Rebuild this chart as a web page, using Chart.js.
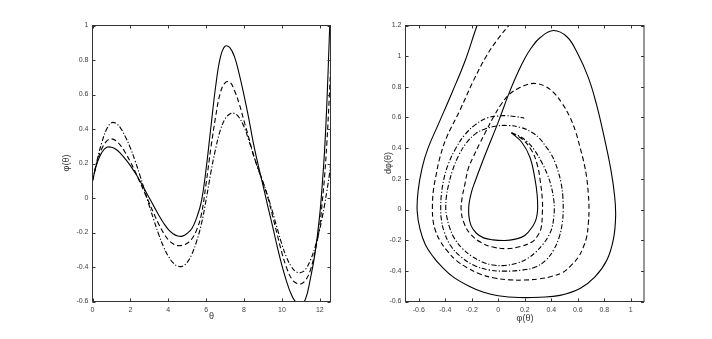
<!DOCTYPE html>
<html><head><meta charset="utf-8">
<script src="https://cdn.jsdelivr.net/npm/chart.js@4.4.1/dist/chart.umd.min.js"></script>
<style>
html,body{margin:0;padding:0;background:#fff;width:712px;height:339px;overflow:hidden}
.box{position:absolute;top:0;width:356px;height:339px}
#w1{left:0}
#w2{left:356px}
</style></head><body>
<div class="box" id="w1"><canvas id="c1" width="356" height="339"></canvas></div>
<div class="box" id="w2"><canvas id="c2" width="356" height="339"></canvas></div>
<script>
// ---- left panel: phi(theta) ----
const theta = [0,0.25,0.5,0.75,1,1.25,1.5,1.75,2,2.25,2.5,2.75,3,3.25,3.5,3.75,4,4.25,4.5,4.75,5,5.25,5.5,5.75,6,6.25,6.5,6.75,7,7.25,7.5,7.75,8,8.25,8.5,8.75,9,9.25,9.5,9.75,10,10.25,10.5,10.75,11,11.25,11.5,11.75,12,12.125,12.25,12.375,12.5,12.566];
const phiSolid = [0.100,0.205,0.265,0.294,0.294,0.281,0.256,0.224,0.188,0.146,0.100,0.050,0.000,-0.050,-0.100,-0.145,-0.182,-0.207,-0.220,-0.221,-0.205,-0.177,-0.115,-0.020,0.170,0.410,0.645,0.815,0.880,0.872,0.818,0.716,0.595,0.462,0.315,0.190,0.075,-0.045,-0.160,-0.280,-0.390,-0.485,-0.560,-0.605,-0.617,-0.585,-0.470,-0.320,-0.095,0.070,0.270,0.550,0.920,1.120];
const phiDashed = [0.100,0.212,0.288,0.330,0.343,0.331,0.302,0.260,0.210,0.153,0.093,0.031,-0.031,-0.093,-0.152,-0.203,-0.242,-0.265,-0.276,-0.274,-0.262,-0.236,-0.185,-0.095,0.085,0.290,0.470,0.610,0.668,0.672,0.622,0.545,0.447,0.350,0.250,0.170,0.092,0.005,-0.100,-0.210,-0.318,-0.405,-0.466,-0.493,-0.498,-0.476,-0.420,-0.310,-0.160,-0.030,0.120,0.320,0.580,0.740];
const phiDashDot = [0.100,0.222,0.325,0.400,0.436,0.432,0.402,0.352,0.290,0.215,0.133,0.045,-0.045,-0.132,-0.212,-0.282,-0.337,-0.375,-0.395,-0.395,-0.373,-0.325,-0.250,-0.150,-0.010,0.148,0.285,0.393,0.458,0.487,0.490,0.465,0.413,0.335,0.248,0.165,0.093,0.013,-0.078,-0.175,-0.268,-0.345,-0.398,-0.428,-0.432,-0.413,-0.362,-0.285,-0.180,-0.115,-0.042,0.040,0.130,0.192];
const xTicksLeft = [0,2,4,6,8,10,12];
const yTicksLeft = [-0.6,-0.4,-0.2,0,0.2,0.4,0.6,0.8,1];

// ---- right panel: phase portrait (phi, dphi) ----
const phSolidX = [0.100,0.176,0.239,0.277,0.294,0.297,0.287,0.264,0.200,0.120,0.050,-0.040,-0.110,-0.165,-0.205,-0.222,-0.220,-0.200,-0.177,-0.101,0.000,0.075,0.141,0.200,0.250,0.315,0.415,0.520,0.600,0.680,0.740,0.800,0.850,0.878,0.886,0.870,0.820,0.730,0.617,0.466,0.314,0.160,0.000,-0.110,-0.220,-0.338,-0.430,-0.489,-0.550,-0.590,-0.612,-0.605,-0.575,-0.530,-0.450,-0.350,-0.250,-0.160,-0.100];
const phSolidY = [0.500,0.440,0.341,0.200,0.091,0.000,-0.060,-0.104,-0.170,-0.195,-0.202,-0.198,-0.185,-0.155,-0.105,-0.040,0.040,0.120,0.178,0.352,0.570,0.744,0.880,0.985,1.055,1.120,1.167,1.125,1.015,0.860,0.690,0.470,0.260,0.090,-0.040,-0.190,-0.330,-0.440,-0.515,-0.560,-0.572,-0.574,-0.562,-0.540,-0.500,-0.441,-0.370,-0.311,-0.230,-0.130,-0.010,0.120,0.270,0.400,0.560,0.760,0.970,1.200,1.330];
const phDashedX = [0.100,0.180,0.252,0.295,0.318,0.333,0.333,0.322,0.290,0.252,0.160,0.065,-0.040,-0.130,-0.210,-0.260,-0.280,-0.272,-0.255,-0.227,-0.190,-0.140,-0.090,-0.038,0.025,0.088,0.163,0.220,0.277,0.350,0.415,0.480,0.541,0.585,0.617,0.648,0.667,0.680,0.685,0.680,0.667,0.640,0.604,0.550,0.490,0.400,0.314,0.200,0.088,-0.030,-0.139,-0.230,-0.315,-0.385,-0.441,-0.475,-0.492,-0.497,-0.490,-0.470,-0.440,-0.390,-0.290,-0.190,-0.090,0.000,0.080,0.160];
const phDashedY = [0.500,0.460,0.385,0.290,0.180,0.060,-0.020,-0.126,-0.180,-0.213,-0.243,-0.255,-0.245,-0.215,-0.160,-0.085,0.000,0.080,0.150,0.265,0.340,0.430,0.515,0.600,0.690,0.755,0.795,0.815,0.822,0.805,0.765,0.695,0.602,0.505,0.406,0.300,0.210,0.100,0.000,-0.090,-0.180,-0.250,-0.311,-0.365,-0.409,-0.437,-0.452,-0.460,-0.459,-0.447,-0.420,-0.382,-0.333,-0.270,-0.202,-0.135,-0.072,0.015,0.120,0.220,0.340,0.470,0.646,0.835,1.000,1.115,1.200,1.280];
const phDashDotX = [0.100,0.160,0.220,0.275,0.327,0.370,0.398,0.418,0.423,0.418,0.403,0.375,0.340,0.280,0.220,0.140,0.050,-0.040,-0.120,-0.200,-0.270,-0.330,-0.370,-0.390,-0.396,-0.392,-0.375,-0.345,-0.300,-0.240,-0.170,-0.100,-0.020,0.070,0.170,0.252,0.310,0.360,0.400,0.428,0.455,0.475,0.487,0.490,0.483,0.460,0.420,0.360,0.280,0.180,0.050,-0.070,-0.180,-0.280,-0.360,-0.410,-0.430,-0.434,-0.430,-0.410,-0.375,-0.320,-0.250,-0.170,-0.080,0.000,0.060,0.130,0.196];
const phDashDotY = [0.500,0.478,0.440,0.385,0.309,0.230,0.157,0.070,0.000,-0.060,-0.126,-0.180,-0.224,-0.280,-0.320,-0.350,-0.365,-0.362,-0.342,-0.305,-0.255,-0.190,-0.110,-0.040,0.000,0.080,0.160,0.255,0.350,0.435,0.495,0.525,0.543,0.548,0.535,0.504,0.465,0.410,0.360,0.309,0.240,0.170,0.090,0.000,-0.090,-0.180,-0.260,-0.330,-0.375,-0.395,-0.402,-0.394,-0.365,-0.310,-0.235,-0.140,-0.060,0.000,0.090,0.200,0.300,0.400,0.490,0.555,0.598,0.610,0.612,0.606,0.596];
const xTicksRight = [-0.6,-0.4,-0.2,0,0.2,0.4,0.6,0.8,1];
const yTicksRight = [-0.6,-0.4,-0.2,0,0.2,0.4,0.6,0.8,1,1.2];

const FONT = "'Liberation Sans', Arial, Helvetica, sans-serif";
const fmt = v => String(Math.round(v * 10) / 10);
const pairs = (xs, ys) => xs.map((x, i) => ({x: x, y: ys[i]}));

const frame = {
  id: 'frame',
  afterDraw(chart) {
    const o = chart.options.plugins.frame;
    const {ctx, chartArea: a, scales: {x, y}} = chart;
    const L = 3;
    ctx.save();
    ctx.strokeStyle = '#333';
    ctx.lineWidth = 1;
    ctx.strokeRect(a.left, a.top, a.right - a.left, a.bottom - a.top);
    ctx.beginPath();
    x.ticks.forEach(t => {
      const px = Math.round(x.getPixelForValue(t.value)) + 0.5;
      ctx.moveTo(px, a.bottom); ctx.lineTo(px, a.bottom - L);
      ctx.moveTo(px, a.top); ctx.lineTo(px, a.top + L);
    });
    y.ticks.forEach(t => {
      const py = Math.round(y.getPixelForValue(t.value)) + 0.5;
      ctx.moveTo(a.left, py); ctx.lineTo(a.left + L, py);
      ctx.moveTo(a.right, py); ctx.lineTo(a.right - L, py);
    });
    ctx.stroke();
    ctx.fillStyle = '#333';
    ctx.font = '9px ' + FONT;
    ctx.textAlign = 'center';
    ctx.textBaseline = 'middle';
    ctx.fillText(o.xTitle, o.xTitlePos[0], o.xTitlePos[1]);
    ctx.translate(o.yTitlePos[0], o.yTitlePos[1]);
    ctx.rotate(-Math.PI / 2);
    ctx.fillText(o.yTitle, 0, 0);
    ctx.restore();
  }
};

function ds(data, dash) {
  return {data: data, borderColor: '#000', borderWidth: 1.1, borderDash: dash,
          pointRadius: 0, tension: 0.4, fill: false};
}

function makeChart(id, datasets, sx, sy, xt, yt, yWidth, padRight, titles) {
  return new Chart(document.getElementById(id), {
    type: 'line',
    data: {datasets: datasets},
    plugins: [frame],
    options: {
      responsive: false, animation: false, devicePixelRatio: 1,
      layout: {padding: {left: 0, top: 25.5, right: padRight, bottom: 0}},
      plugins: {legend: {display: false}, tooltip: {enabled: false}, frame: titles},
      scales: {
        x: {type: 'linear', min: sx[0], max: sx[1],
            grid: {display: false, drawTicks: false}, border: {display: false},
            afterBuildTicks: s => { s.ticks = xt.map(v => ({value: v})); },
            afterFit: s => { s.height = 37.5; },
            ticks: {autoSkip: false, maxRotation: 0, padding: 4, color: '#404040',
                    font: {size: 7, family: FONT}, callback: v => fmt(v)}},
        y: {type: 'linear', min: sy[0], max: sy[1],
            grid: {display: false, drawTicks: false}, border: {display: false},
            afterBuildTicks: s => { s.ticks = yt.map(v => ({value: v})); },
            afterFit: s => { s.width = yWidth; },
            ticks: {autoSkip: false, padding: 4, color: '#404040',
                    font: {size: 7, family: FONT}, callback: v => fmt(v)}}
      }
    }
  });
}

makeChart('c1', [
  ds(pairs(theta, phiSolid), []),
  ds(pairs(theta, phiDashed), [5, 3]),
  ds(pairs(theta, phiDashDot), [5, 2, 1.2, 2])
], [0, 4 * Math.PI], [-0.6, 1], xTicksLeft, yTicksLeft, 92.5, 25.5,
  {xTitle: 'θ', xTitlePos: [211.5, 317], yTitle: 'φ(θ)', yTitlePos: [67, 163]});

makeChart('c2', [
  ds(pairs(phSolidX, phSolidY), []),
  ds(pairs(phDashedX, phDashedY), [5, 3]),
  ds(pairs(phDashDotX, phDashDotY), [5, 2, 1.2, 2])
], [-0.7, 1.1], [-0.6, 1.2], xTicksRight, yTicksRight, 49.5, 68,
  {xTitle: 'φ(θ)', xTitlePos: [169, 319], yTitle: 'dφ(θ)', yTitlePos: [33, 163]});
</script>
</body></html>
